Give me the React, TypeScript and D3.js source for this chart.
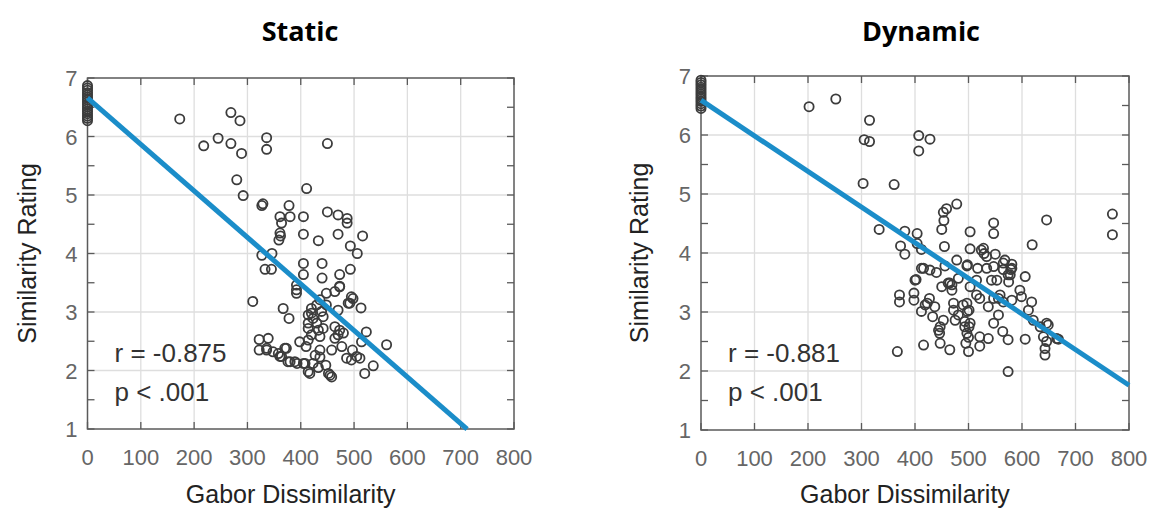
import React from "react";
import * as d3 from "d3";

// ---------- DATA ----------
const xTicks = [0, 100, 200, 300, 400, 500, 600, 700, 800];
const yTicks = [1, 2, 3, 4, 5, 6, 7];
const yMinorTicks = [1, 1.5, 2, 2.5, 3, 3.5, 4, 4.5, 5, 5.5, 6, 6.5, 7];

const staticZeroY = [6.87, 6.83, 6.79, 6.75, 6.71, 6.67, 6.63, 6.59, 6.55, 6.51, 6.47, 6.43, 6.39, 6.35, 6.31, 6.27];
const staticPoints: [number, number][] = [
  [173, 6.3], [218, 5.84], [245, 5.97], [269, 6.41], [286, 6.27], [269, 5.88], [289, 5.71], [280, 5.26], [292, 4.99],
  [327, 4.82], [329, 4.85], [336, 5.98], [336, 5.78], [378, 4.82], [361, 4.63], [380, 4.63], [364, 4.52], [405, 4.63], [411, 5.11],
  [361, 4.35], [362, 4.3], [359, 4.23], [405, 4.33], [327, 3.97], [346, 4.0], [450, 5.88], [450, 4.71], [470, 4.66], [487, 4.6], [487, 4.52],
  [516, 4.3], [433, 4.22], [470, 4.33], [493, 4.13], [506, 4.0],
  [405, 3.83], [440, 3.83], [405, 3.64], [440, 3.58], [473, 3.64], [493, 3.73], [473, 3.44],
  [333, 3.73], [345, 3.73], [310, 3.18], [367, 3.06], [378, 2.89], [392, 3.46], [392, 3.38], [392, 3.32],
  [322, 2.53], [322, 2.35], [336, 2.35], [348, 2.32], [361, 2.24], [373, 2.38], [380, 2.15], [393, 2.12], [408, 2.12], [398, 2.49], [414, 1.98], [414, 2.95],
  [464, 3.35], [448, 3.32], [436, 3.21], [430, 3.12], [448, 3.12], [492, 3.15], [498, 3.23], [513, 3.07], [470, 3.03],
  [420, 3.06], [420, 2.98], [439, 3.01], [423, 2.89], [442, 2.92], [414, 2.81], [430, 2.81], [414, 2.72], [433, 2.69], [442, 2.72], [420, 2.61], [436, 2.58], [414, 2.52], [410, 2.41],
  [464, 2.75], [473, 2.69], [470, 2.61], [480, 2.64], [464, 2.55], [523, 2.66], [514, 2.49], [561, 2.44],
  [497, 2.35], [505, 2.24], [511, 2.21], [495, 2.18], [486, 2.21], [520, 1.95], [536, 2.08], [477, 2.41], [458, 2.35],
  [436, 2.35], [427, 2.26], [436, 2.23], [423, 2.12], [417, 1.95], [433, 2.05], [447, 2.09], [452, 1.95], [458, 1.89], [455, 1.92],
  [339, 2.55], [336, 2.38], [358, 2.29], [370, 2.38], [364, 2.24], [376, 2.15], [389, 2.15], [405, 2.12],
  [495, 3.26], [489, 3.15], [473, 3.43],
];

const dynamicZeroY = [6.93, 6.89, 6.85, 6.81, 6.77, 6.73, 6.69, 6.65, 6.61, 6.57, 6.53, 6.49, 6.45];
const dynamicPoints: [number, number][] = [
  [202, 6.48], [252, 6.61], [315, 6.25], [305, 5.92], [315, 5.89], [303, 5.18], [361, 5.16], [407, 5.99], [428, 5.93], [407, 5.73],
  [333, 4.4], [381, 4.37], [404, 4.33], [373, 4.12], [381, 3.98], [404, 4.16], [412, 4.06],
  [478, 4.83], [459, 4.75], [453, 4.69], [454, 4.55], [450, 4.4], [455, 4.11], [503, 4.36], [503, 4.07], [547, 4.51], [547, 4.33],
  [550, 3.98], [528, 4.08], [529, 3.99], [619, 4.14], [646, 4.56], [769, 4.66], [769, 4.31],
  [534, 3.74], [568, 3.88], [581, 3.81], [565, 3.72], [579, 3.72], [574, 3.63], [412, 3.74], [428, 3.71], [440, 3.67], [456, 3.78], [497, 3.78],
  [402, 3.55], [543, 3.54], [606, 3.6], [481, 3.57], [465, 3.49], [515, 3.54],
  [371, 3.29], [371, 3.17], [398, 3.32], [398, 3.2], [427, 3.23], [423, 3.15], [437, 3.09], [412, 3.01], [433, 2.92], [453, 2.86], [444, 2.69], [446, 2.64],
  [472, 3.15], [472, 3.03], [481, 2.95], [497, 3.15], [498, 3.01], [503, 2.81], [497, 2.64], [495, 2.47], [500, 2.33], [521, 2.58], [521, 2.42], [537, 2.55],
  [465, 2.36], [447, 2.47], [416, 2.44], [367, 2.33], [450, 3.43], [469, 3.46], [515, 3.29], [547, 3.23], [559, 3.29], [565, 3.17], [596, 3.37], [599, 3.26], [581, 3.2],
  [612, 3.03], [618, 3.17], [621, 2.86], [634, 2.75], [646, 2.81], [640, 2.58], [646, 2.5], [643, 2.38], [643, 2.27], [665, 2.55], [574, 1.99], [606, 2.54],
  [556, 2.95], [547, 2.81], [564, 2.67], [574, 2.53], [537, 3.09], [475, 2.86], [419, 3.12], [447, 2.75], [493, 2.75],
  [400, 3.54], [478, 3.88], [498, 3.8], [517, 3.74], [534, 3.94], [524, 4.05], [547, 3.77], [553, 3.54], [565, 3.83], [581, 3.74], [578, 3.63], [575, 3.51],
  [556, 3.23], [503, 3.43], [521, 3.23], [416, 3.74], [462, 3.49], [469, 3.37], [490, 3.12], [501, 3.03], [493, 2.84], [501, 2.75], [500, 2.57], [649, 2.78], [668, 2.54],
];

// regression fits: [intercept, slope, x end]
const staticFit = [6.66, -0.00795, 712];
const dynamicFit = [6.59, -0.00604, 800];

const titles = ["Static", "Dynamic"];
const statsR = ["r = -0.875", "r = -0.881"];
const statsP = ["p < .001", "p < .001"];
const xLabel = "Gabor Dissimilarity";
const yLabel = "Similarity Rating";

// ---------- RENDER ----------
const AXIS = "#5a5a5a";
const GRID = "#dedede";
const LINE = "#1b8dc9";
const FONT = "'Liberation Sans', Arial, sans-serif";

type PanelProps = {
  x0: number; x1: number; y0: number; y1: number;
  zeroY: number[]; pts: [number, number][]; fit: number[];
  title: string; titleX: number; r: string; p: string; ylabX: number;
};

function Panel(props: PanelProps) {
  const { x0, x1, y0, y1, zeroY, pts, fit, title, titleX, r, p, ylabX } = props;
  const x = d3.scaleLinear().domain([0, 800]).range([x0, x1]);
  const y = d3.scaleLinear().domain([1, 7]).range([y1, y0]);
  const all: [number, number][] = [...zeroY.map((v) => [0, v] as [number, number]), ...pts];
  const line = d3.line<number>().x((d) => x(d)).y((d) => y(fit[0] + fit[1] * d));
  const tl = 7;
  return (
    <g>
      <text x={titleX} y={41} textAnchor="middle" fontFamily="'Open Sans', sans-serif" fontWeight={700} fontSize={27} fill="#000">{title}</text>
      {/* grid */}
      {xTicks.slice(1, -1).map((t) => (
        <line key={"gx" + t} x1={x(t)} x2={x(t)} y1={y0} y2={y1} stroke={GRID} strokeWidth={1.3} />
      ))}
      {yTicks.slice(1, -1).map((t) => (
        <line key={"gy" + t} x1={x0} x2={x1} y1={y(t)} y2={y(t)} stroke={GRID} strokeWidth={1.3} />
      ))}
      {/* ticks */}
      {xTicks.map((t) => (
        <g key={"tx" + t}>
          <line x1={x(t)} x2={x(t)} y1={y1} y2={y1 - tl} stroke={AXIS} strokeWidth={1.3} />
          <line x1={x(t)} x2={x(t)} y1={y0} y2={y0 + tl} stroke={AXIS} strokeWidth={1.3} />
          <text x={x(t)} y={y1 + 36} textAnchor="middle" fontFamily={FONT} fontSize={22} fill="#666">{t}</text>
        </g>
      ))}
      {yMinorTicks.map((t) => (
        <g key={"ty" + t}>
          <line x1={x0} x2={x0 + tl} y1={y(t)} y2={y(t)} stroke={AXIS} strokeWidth={1.3} />
          <line x1={x1} x2={x1 - tl} y1={y(t)} y2={y(t)} stroke={AXIS} strokeWidth={1.3} />
        </g>
      ))}
      {yTicks.map((t) => (
        <text key={"yl" + t} x={x0 - 10} y={y(t) + 8} textAnchor="end" fontFamily={FONT} fontSize={22} fill="#666">{t}</text>
      ))}
      {/* box */}
      <rect x={x0} y={y0} width={x1 - x0} height={y1 - y0} fill="none" stroke={AXIS} strokeWidth={1.5} />
      {/* points */}
      {all.map((d, i) => (
        <circle key={"p" + i} cx={x(d[0])} cy={y(d[1])} r={4.6} fill="none" stroke="#3c3c3c" strokeWidth={1.8} />
      ))}
      {/* fit */}
      <path d={line([0, fit[2]]) || ""} stroke={LINE} strokeWidth={5} fill="none" />
      {/* stats */}
      <text x={x0 + 27} y={362} fontFamily={FONT} fontSize={26} fill="#333">{r}</text>
      <text x={x0 + 27} y={401} fontFamily={FONT} fontSize={26} fill="#333">{p}</text>
      {/* labels */}
      <text x={x(400) - 10} y={503} textAnchor="middle" fontFamily={FONT} fontSize={25} fill="#222">{xLabel}</text>
      <text transform={`translate(${ylabX},${(y0 + y1) / 2}) rotate(-90)`} textAnchor="middle" fontFamily={FONT} fontSize={25} fill="#222">{yLabel}</text>
    </g>
  );
}

export default function App() {
  return (
    <svg width={1152} height={512} style={{ position: "absolute", left: 0, top: 0, background: "#fff" }}>
      <rect width={1152} height={512} fill="#fff" />
      <Panel x0={87.5} x1={514} y0={78} y1={429} zeroY={staticZeroY} pts={staticPoints} fit={staticFit}
        title={titles[0]} titleX={300} r={statsR[0]} p={statsP[0]} ylabX={36} />
      <Panel x0={701} x1={1129} y0={76} y1={430} zeroY={dynamicZeroY} pts={dynamicPoints} fit={dynamicFit}
        title={titles[1]} titleX={921} r={statsR[1]} p={statsP[1]} ylabX={648} />
    </svg>
  );
}
